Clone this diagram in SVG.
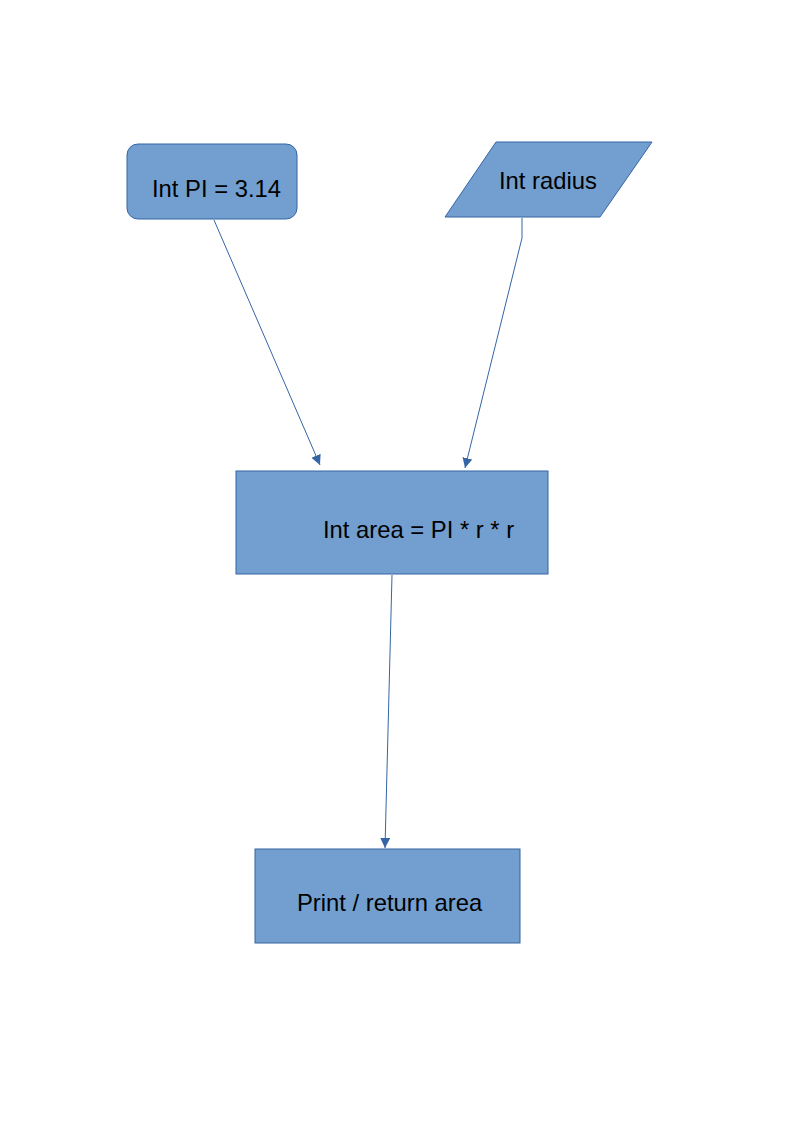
<svg xmlns="http://www.w3.org/2000/svg" width="794" height="1123" viewBox="0 0 794 1123">
<style>
.shape{fill:#729fcf;stroke:#3465a4;stroke-width:1}
.lbl{font-family:"Liberation Sans",Arial,sans-serif;font-size:23.8px;fill:#000}
.conn{fill:none;stroke:#3465a4;stroke-width:1}
</style>
<defs>
<marker id="arr" viewBox="0 0 10 10" refX="10" refY="5" markerWidth="10" markerHeight="10" markerUnits="userSpaceOnUse" orient="auto">
<path d="M0,0 L10,5 L0,10 Z" fill="#3465a4"/>
</marker>
</defs>
<rect width="794" height="1123" fill="#fff"/>
<g id="connectors">
<path class="conn" d="M214,220 L320,465" marker-end="url(#arr)"/>
<path class="conn" d="M522,218 L522,238 L465,468" marker-end="url(#arr)"/>
<path class="conn" d="M392,575 L385,848" marker-end="url(#arr)"/>
</g>
<g id="node-pi">
<rect class="shape" x="127" y="144" width="170" height="75" rx="11" ry="11"/>
<text class="lbl" x="152" y="197">Int PI = 3.14</text>
</g>
<g id="node-radius">
<polygon class="shape" points="496,142 652,142 600,217 445,217"/>
<text class="lbl" x="499" y="189">Int radius</text>
</g>
<g id="node-area">
<rect class="shape" x="236" y="471" width="312" height="103"/>
<text class="lbl" x="323" y="538">Int area = PI * r * r</text>
</g>
<g id="node-print">
<rect class="shape" x="255" y="849" width="265" height="94"/>
<text class="lbl" x="297" y="911">Print / return area</text>
</g>
</svg>
